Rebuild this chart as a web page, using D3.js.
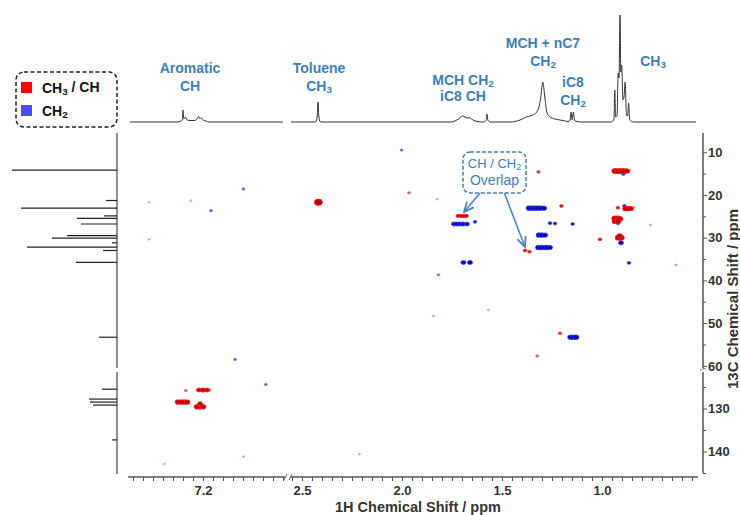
<!DOCTYPE html>
<html>
<head>
<meta charset="utf-8">
<script src="https://cdn.jsdelivr.net/npm/d3@7"></script>
<style>
body{margin:0;background:#fff}
text{font-family:Arial,"Liberation Sans",sans-serif}
</style>
</head>
<body>
<div id="chart"></div>
<script>
// 1H projection (top), [ppm, intensity]
var protonLeft = [
	[7.565,0],[7.33,0],[7.31,1],[7.303,3],[7.3,12],[7.296,3],[7.288,5],[7.28,2],[7.265,1.5],
	[7.24,1.5],[7.228,4],[7.222,5.5],[7.215,3],[7.208,4.2],[7.2,2],[7.185,1],[7.17,0],[6.8,0]
]
var protonRight = [
	[2.555,0],[2.44,0],[2.43,0.5],[2.424,6],[2.42,20],[2.416,6],[2.41,0.5],[2.4,0],
	[1.76,0],[1.735,1],[1.715,3.5],[1.697,6],[1.685,5],[1.675,4],[1.662,4.3],[1.645,2],[1.625,0.5],
	[1.59,0],[1.579,2],[1.575,8],[1.571,2],[1.56,0],
	[1.46,0],[1.435,0.5],[1.41,2],[1.377,5],[1.345,7],[1.32,12],[1.306,25],[1.296,40],[1.286,25],
	[1.276,10],[1.26,5],[1.235,3],[1.195,1.5],
	[1.17,0.5],[1.16,1.5],[1.155,10],[1.15,2],[1.143,10],[1.137,1.5],[1.125,0.5],[1.1,0],
	[0.96,0],[0.945,1],[0.94,4],[0.936,32],[0.932,5],[0.925,6],[0.919,49],[0.915,44],[0.91,107],
	[0.906,50],[0.902,57],[0.895,22],[0.89,25],[0.884,40],[0.878,8],[0.872,6],[0.867,19],[0.862,3],
	[0.855,1],[0.84,0],[0.53,0]
]
// 13C projection (left), [ppm, intensity]
var carbonPeaks = [
	[14.2,105],[21.3,11],[23.1,96],[24.9,13],[25.5,40],[26.8,36],[29.5,50],[30.1,65],[31.2,5],
	[32.2,90],[33.0,14],[35.8,41],[53.3,18],
	[125.5,15],[127.8,28],[128.5,27],[129.2,24],[137.3,5]
]
// HSQC cross peaks, [1H ppm, 13C ppm, intensity]
var redPeaks = [
	[0.935,14.4,4],[0.92,14.4,4],[0.905,14.4,4],[0.89,14.4,4],[0.875,14.4,3.5],
	[0.921,23.0,2],[0.882,23.2,3.5],[0.868,23.2,3.5],[0.855,23.2,3],[0.838,22.8,1],
	[0.935,25.5,4],[0.92,25.5,4],[0.91,25.6,3.5],[0.935,26.2,3.5],[0.92,26.2,3.5],
	[0.918,30.0,4],[0.905,30.0,4],[0.912,29.6,3.5],
	[1.01,30.4,2],[1.203,22.6,2],[0.63,36.4,1.2],
	[1.72,24.9,2.2],[1.705,24.9,2.5],[1.69,24.9,2.5],[1.678,24.9,2.2],
	[1.318,14.6,1.8],[1.385,33.0,2],[1.363,33.3,2],
	[1.568,46.9,1],[1.21,52.4,1.8],[1.324,57.7,1.5],
	[1.965,19.5,1.5],[1.825,21.0,1],[2.418,21.7,5],[1.818,38.7,1.5],
	[7.26,21.3,1],[7.47,30.4,1],
	[7.286,125.8,1.5],[7.22,125.7,3],[7.2,125.7,3.2],[7.18,125.7,3],[7.168,125.7,1.5],
	[7.325,128.5,3.5],[7.31,128.5,3.5],[7.295,128.5,3.5],[7.28,128.5,3.5],
	[7.23,129.6,3.5],[7.215,129.6,3.5],[7.2,129.6,3.5],[7.215,128.9,3],
	[7.393,142.9,1]
]
var bluePeaks = [
	[0.893,15.1,2],[0.888,22.6,2],[0.92,26.7,1.8],[0.905,31.2,3],
	[1.147,26.8,2],[0.865,35.9,2],[0.757,27.0,1],
	[1.74,26.8,3],[1.725,26.8,3],[1.71,26.8,3],[1.695,26.8,3],[1.675,26.8,2.8],[1.635,26.3,2],
	[1.365,23.1,3.5],[1.35,23.1,3.5],[1.335,23.1,3.5],[1.32,23.1,3.5],[1.305,23.1,3.5],[1.29,23.1,3.2],
	[1.26,26.6,2],[1.235,26.7,2],
	[1.315,29.4,3.5],[1.30,29.4,3.5],[1.285,29.4,3.2],
	[1.318,32.3,3.5],[1.303,32.3,3.5],[1.288,32.3,3.5],[1.273,32.3,3.5],[1.26,32.3,3],
	[1.693,35.8,3],[1.66,35.8,3],
	[1.157,53.3,3.5],[1.143,53.3,3.5],[1.13,53.3,3.5],
	[2.002,9.5,1.5],[1.843,48.3,1],
	[6.998,18.6,1.5],[7.47,21.7,1],[7.16,23.7,1.5],[7.04,58.5,1.5],
	[6.886,124.4,1.5],[6.998,141.2,1],[2.213,140.6,1]
]
var hLeftTicks = d3.range(136,152).map(function(i){return i/20})
var hRightTicks = d3.range(11,52).map(function(i){return i/20})
var hLeftLabels = [7.2]
var hRightLabels = [2.5,2.0,1.5,1.0]
var cUpTicks = [10,15,20,25,30,35,40,45,50,55,60]
var cLowTicks = [125,130,135,140,145]

var labels = [
	{lines:["Aromatic","CH"],x:190,y:[73,91]},
	{lines:["Toluene","CH3"],x:319,y:[73,91]},
	{lines:["MCH CH2","iC8 CH"],x:463,y:[85,101]},
	{lines:["MCH + nC7","CH2"],x:543,y:[48,66]},
	{lines:["iC8","CH2"],x:573,y:[87,105]},
	{lines:["CH3"],x:653,y:[66]}
]

var width = 740, height = 515
var svg = d3.select("#chart").append("svg").attr("width",width).attr("height",height)

var hLeft = d3.scaleLinear().domain([7.575,6.79]).range([128,285])
var hRight = d3.scaleLinear().domain([2.56,0.52]).range([290,698])
var cUp = d3.scaleLinear().domain([5.5,60.5]).range([133,368])
var cLow = d3.scaleLinear().domain([121.5,145]).range([372,473])
var topY = d3.scaleLinear().domain([0,107]).range([122,15])
var sideX = d3.scaleLinear().domain([0,105]).range([117,12])
var rScale = d3.scaleLinear().domain([1,5]).range([0.9,3.2])
var opScale = d3.scaleLinear().domain([1,2.2]).range([0.4,1]).clamp(true)

function xh(h){ return h>5 ? hLeft(h) : hRight(h) }
function yc(c){ return c>100 ? cLow(c) : cUp(c) }

// write "CH2" style text with subscript digits after H
function subText(sel, s){
	var parts = s.split(/(\d)/).filter(function(p){return p!=""})
	var shift = 0
	parts.forEach(function(p,i){
		var isSub = /^\d$/.test(p) && i>0 && /H$/.test(parts[i-1])
		var ts = sel.append("tspan").text(p)
		if(isSub){
			ts.attr("font-size","0.7em").attr("dy","0.25em")
			shift = 1
		}else if(shift){
			ts.attr("dy","-0.25em")
			shift = 0
		}
	})
}

// top 1H spectrum
var line = d3.line().x(function(d){return d[2](d[0])}).y(function(d){return topY(d[1])}).curve(d3.curveMonotoneX)
svg.append("path").attr("d",line(protonLeft.map(function(d){return [d[0],d[1],hLeft]})))
	.attr("fill","none").attr("stroke","#333").attr("stroke-width",1)
svg.append("path").attr("d",line(protonRight.map(function(d){return [d[0],d[1],hRight]})))
	.attr("fill","none").attr("stroke","#333").attr("stroke-width",1)

// left 13C spectrum
svg.append("line").attr("x1",117).attr("x2",117).attr("y1",133).attr("y2",368).attr("stroke","#444").attr("stroke-width",1.2)
svg.append("line").attr("x1",117).attr("x2",117).attr("y1",372).attr("y2",474).attr("stroke","#444").attr("stroke-width",1.2)
svg.selectAll(".cpk").data(carbonPeaks).enter().append("line")
	.attr("x1",sideX(0)).attr("x2",function(d){return sideX(d[1])})
	.attr("y1",function(d){return yc(d[0])}).attr("y2",function(d){return yc(d[0])})
	.attr("stroke","#222").attr("stroke-width",1.2)

// cross peaks
function drawPeaks(data, fill, stroke){
	svg.append("g").selectAll("ellipse").data(data).enter().append("ellipse")
		.attr("cx",function(d){return xh(d[0])})
		.attr("cy",function(d){return yc(d[1])})
		.attr("rx",function(d){return rScale(d[2])*1.25})
		.attr("ry",function(d){return rScale(d[2])})
		.attr("fill",fill).attr("stroke",stroke).attr("stroke-width",0.7)
		.attr("opacity",function(d){return opScale(d[2])})
}
drawPeaks(bluePeaks,"#0000b4","#3c3cff")
drawPeaks(redPeaks,"#c00000","#ff2020")

// axes
function styleAxis(g, keep){
	g.select(".domain").attr("stroke","#555").attr("stroke-width",1.5)
	g.selectAll(".tick line").attr("stroke","#555").attr("stroke-width",1)
	g.selectAll(".tick text").attr("fill","#333").style("font-size","13px").style("font-weight","bold")
	g.selectAll(".tick").filter(function(d){return !keep.some(function(k){return Math.abs(k-d)<1e-6})})
		.select("text").remove()
}
var gxl = svg.append("g").attr("transform","translate(0,477)")
	.call(d3.axisBottom(hLeft).tickValues(hLeftTicks).tickSize(4).tickSizeOuter(0).tickPadding(5)
		.tickFormat(d3.format(".1f")))
gxl.select(".domain").attr("d","M128,0H285")
styleAxis(gxl, hLeftLabels)
var gxr = svg.append("g").attr("transform","translate(0,477)")
	.call(d3.axisBottom(hRight).tickValues(hRightTicks).tickSize(4).tickSizeOuter(0).tickPadding(5)
		.tickFormat(d3.format(".1f")))
gxr.select(".domain").attr("d","M290,0H698")
styleAxis(gxr, hRightLabels)

var gyu = svg.append("g").attr("transform","translate(703,0)")
	.call(d3.axisRight(cUp).tickValues(cUpTicks).tickSize(4).tickSizeOuter(0).tickPadding(1))
gyu.select(".domain").attr("d","M0,133V368")
styleAxis(gyu, [10,20,30,40,50,60])
var gyl = svg.append("g").attr("transform","translate(703,0)")
	.call(d3.axisRight(cLow).tickValues(cLowTicks).tickSize(4).tickSizeOuter(0).tickPadding(1))
gyl.select(".domain").attr("d","M0,372V473")
styleAxis(gyl, [130,140])
gyu.selectAll(".tick").filter(function(d){return d%10!=0}).select("line").attr("x2",3)
gyl.selectAll(".tick").filter(function(d){return d%10!=0}).select("line").attr("x2",3)

// axis break marks
svg.append("path").attr("d","M284,480L287,474M289,480L292,474").attr("stroke","#777").attr("stroke-width",1).attr("fill","none")
svg.append("path").attr("d","M700,371Q703,367 706,369").attr("stroke","#777").attr("stroke-width",1).attr("fill","none")

// axis titles
svg.append("text").text("1H Chemical Shift / ppm").attr("x",418).attr("y",511.5)
	.attr("text-anchor","middle").attr("fill","#333").style("font-size","14.5px").style("font-weight","bold")
svg.append("text").text("13C Chemical Shift / ppm").attr("transform","translate(738,299) rotate(-90)")
	.attr("text-anchor","middle").attr("fill","#333").style("font-size","15px").style("font-weight","bold")

// peak labels
labels.forEach(function(l){
	l.lines.forEach(function(s,i){
		var t = svg.append("text").attr("x",l.x).attr("y",l.y[i]).attr("text-anchor","middle")
			.attr("fill","#3a7fc0").style("font-size","14px").style("font-weight","bold")
		subText(t,s)
	})
})

// legend
svg.append("rect").attr("x",16).attr("y",72).attr("width",101).attr("height",55).attr("rx",8)
	.attr("fill","none").attr("stroke","#222").attr("stroke-width",1.5).attr("stroke-dasharray","4,2.5")
svg.append("rect").attr("x",21).attr("y",82).attr("width",11).attr("height",11).attr("fill","#ff0000")
svg.append("rect").attr("x",21).attr("y",105).attr("width",11).attr("height",11).attr("fill","#4d4dff")
subText(svg.append("text").attr("x",42).attr("y",93).attr("fill","#111").style("font-size","14px").style("font-weight","bold"),"CH3 / CH")
subText(svg.append("text").attr("x",42).attr("y",116).attr("fill","#111").style("font-size","14px").style("font-weight","bold"),"CH2")

// overlap callout
svg.append("defs").append("marker").attr("id","arr").attr("viewBox","0 0 10 10").attr("refX",9).attr("refY",5)
	.attr("markerWidth",7).attr("markerHeight",7).attr("orient","auto")
	.append("path").attr("d","M0,1L9,5L0,9").attr("fill","none").attr("stroke","#4a86c0").attr("stroke-width",1.6)
svg.append("line").attr("x1",480).attr("y1",193).attr("x2",464).attr("y2",212)
	.attr("stroke","#4a86c0").attr("stroke-width",1.6).attr("marker-end","url(#arr)")
svg.append("line").attr("x1",504).attr("y1",192).attr("x2",525).attr("y2",247)
	.attr("stroke","#4a86c0").attr("stroke-width",1.6).attr("marker-end","url(#arr)")
svg.append("rect").attr("x",463).attr("y",152).attr("width",63).attr("height",41).attr("rx",7)
	.attr("fill","#fff").attr("stroke","#4a7fab").attr("stroke-width",1.5).attr("stroke-dasharray","4,2")
subText(svg.append("text").attr("x",494.5).attr("y",168).attr("text-anchor","middle")
	.attr("fill","#3a7fc0").style("font-size","13px"),"CH / CH2")
svg.append("text").text("Overlap").attr("x",494.5).attr("y",185).attr("text-anchor","middle")
	.attr("fill","#3a7fc0").style("font-size","14px")
</script>
</body>
</html>
